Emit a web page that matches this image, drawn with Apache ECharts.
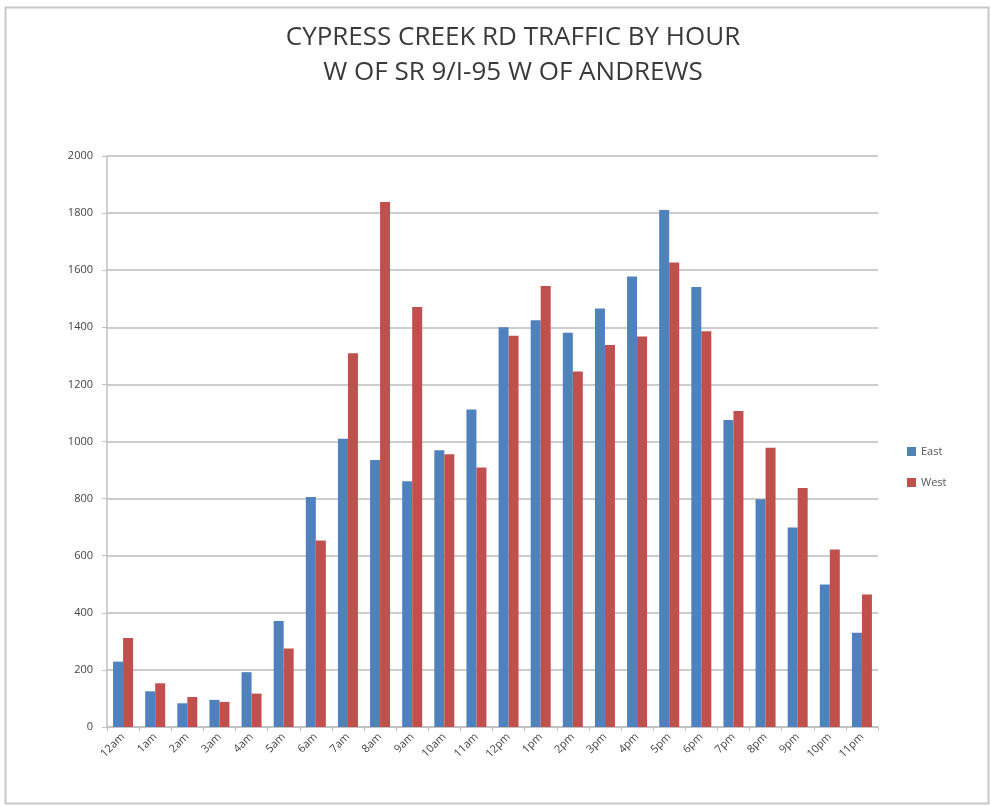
<!DOCTYPE html>
<html>
<head>
<meta charset="utf-8">
<script src="https://cdn.jsdelivr.net/npm/echarts@6/dist/echarts.min.js"></script>
<style>html,body{margin:0;padding:0;background:#fff;}#c{width:991px;height:806px;}</style>
</head>
<body>
<div id="c"></div>
<script>
const categories = ['12am','1am','2am','3am','4am','5am','6am','7am','8am','9am','10am','11am','12pm','1pm','2pm','3pm','4pm','5pm','6pm','7pm','8pm','9pm','10pm','11pm'];
const east = [229,125,83,95,192,371,806,1010,935,861,969,1112,1400,1425,1381,1466,1578,1811,1541,1075,798,699,499,330];
const west = [312,153,105,88,117,275,653,1309,1839,1471,955,909,1370,1545,1245,1338,1368,1627,1386,1107,978,837,622,464];
const yTicks = [0,200,400,600,800,1000,1200,1400,1600,1800,2000];
const titleLines = ['CYPRESS CREEK RD TRAFFIC BY HOUR', 'W OF SR 9/I-95 W OF ANDREWS'];

const chart = echarts.init(document.getElementById('c'));
const fontFam = '"Liberation Sans Narrow", "Open Sans", "Noto Sans", sans-serif';
chart.setOption({
  backgroundColor: '#fff',
  animation: false,
  graphic: [{
    type: 'rect', left: 3, top: 5, shape: {width: 983, height: 796},
    style: {fill: 'none', stroke: '#c8c8c8', lineWidth: 2}
  }],
  title: {
    text: titleLines.join('\n'),
    left: 508, top: 15, textAlign: 'center',
    textStyle: {fontFamily: fontFam, fontSize: 26, fontWeight: 'normal', color: '#3a3a3a', lineHeight: 35}
  },
  legend: {
    orient: 'vertical', left: 902, top: 441, itemWidth: 9, itemHeight: 9, itemGap: 20,
    icon: 'rect',
    textStyle: {fontFamily: fontFam, fontSize: 11, color: '#555'},
    data: ['East', 'West']
  },
  grid: {left: 107, right: 113, top: 156, bottom: 79, containLabel: false},
  xAxis: {
    type: 'category', data: categories,
    axisLine: {lineStyle: {color: '#c0c0c0', width: 1.5}},
    axisTick: {show: true, alignWithLabel: false, length: 4, lineStyle: {color: '#c0c0c0'}},
    axisLabel: {rotate: 45, fontFamily: fontFam, fontSize: 11, color: '#444', margin: 8, interval: 0}
  },
  yAxis: {
    type: 'value', min: 0, max: 2000, interval: 200,
    axisLine: {show: true, lineStyle: {color: '#c0c0c0', width: 1.5}},
    axisTick: {show: true, length: 5, lineStyle: {color: '#c0c0c0'}},
    splitLine: {lineStyle: {color: '#bdbdbd', width: 1.5}},
    axisLabel: {fontFamily: fontFam, fontSize: 11, color: '#444', margin: 14,
      formatter: v => yTicks.includes(v) ? String(v) : ''}
  },
  series: [
    {name: 'East', type: 'bar', data: east, barWidth: 10, barGap: '0%', itemStyle: {color: '#4F81BD'}},
    {name: 'West', type: 'bar', data: west, barWidth: 10, barGap: '0%', itemStyle: {color: '#C0504D'}}
  ]
});
</script>
</body>
</html>
